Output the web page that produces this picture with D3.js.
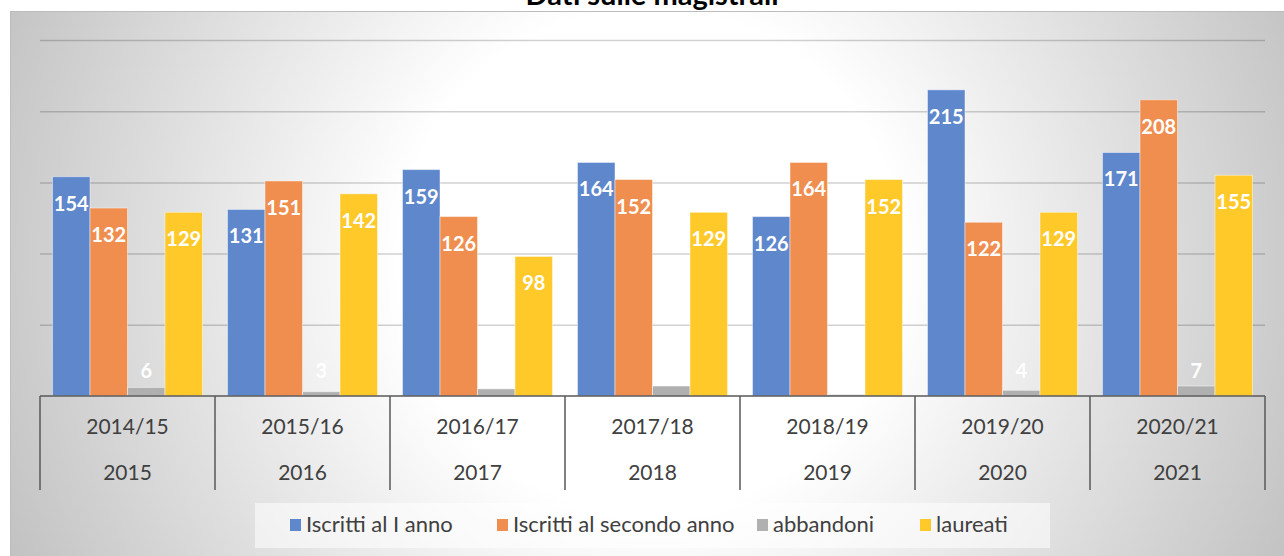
<!DOCTYPE html>
<html>
<head>
<meta charset="utf-8">
<script src="https://cdn.jsdelivr.net/npm/d3@7"></script>
<style>
  body { margin: 0; background: #fff; }
  svg { display: block; font-family: Lato, "Open Sans", sans-serif; }
</style>
</head>
<body>
<div id="chart"></div>
<script>
// data
const periods = ['2014/15', '2015/16', '2016/17', '2017/18', '2018/19', '2019/20', '2020/21'];
const years = ['2015', '2016', '2017', '2018', '2019', '2020', '2021'];
const seriesNames = ['Iscritti al I anno', 'Iscritti al secondo anno', 'abbandoni', 'laureati'];
const iscrittiPrimo = [154, 131, 159, 164, 126, 215, 171];
const iscrittiSecondo = [132, 151, 126, 152, 164, 122, 208];
const abbandoni = [6, 3, 5, 7, 1, 4, 7];
const laureati = [129, 142, 98, 129, 152, 129, 155];
const yTicks = [0, 50, 100, 150, 200, 250];

const colors = ['#5f87cc', '#ef8e4f', '#b0b0b0', '#ffc92a'];
const seriesValues = [iscrittiPrimo, iscrittiSecondo, abbandoni, laureati];

const W = 1284, H = 556;
const margin = { top: 40, right: 19, bottom: 160, left: 40 };
const width = W - margin.left - margin.right;
const height = H - margin.top - margin.bottom;

const svg = d3.select('#chart').append('svg')
    .attr('width', W)
    .attr('height', H);

const defs = svg.append('defs');
const grad = defs.append('radialGradient')
    .attr('id', 'bg')
    .attr('gradientUnits', 'userSpaceOnUse')
    .attr('cx', 650).attr('cy', 260).attr('r', 720);
grad.append('stop').attr('offset', '0%').attr('stop-color', '#ffffff');
grad.append('stop').attr('offset', '35%').attr('stop-color', '#ffffff');
grad.append('stop').attr('offset', '100%').attr('stop-color', '#c0c0c0');

// panel
svg.append('rect')
    .attr('x', 10.5).attr('y', 11.5)
    .attr('width', W).attr('height', H)
    .attr('fill', 'url(#bg)')
    .attr('stroke', '#bdbdbd');

// title (cut off at the top as in the original)
svg.append('text')
    .attr('x', 652).attr('y', 5)
    .attr('text-anchor', 'middle')
    .style('font-size', '29px')
    .style('font-weight', 'bold')
    .attr('fill', '#000')
    .text('Dati sulle magistrali');

const g = svg.append('g')
    .attr('transform', `translate(${margin.left},${margin.top})`);

const y = d3.scaleLinear().domain([0, 250]).range([height, 0]);

const x0 = d3.scaleBand().domain(periods).range([0, width]).padding(0);
const x1 = d3.scaleBand().domain(d3.range(seriesNames.length))
    .range([0, x0.bandwidth()])
    .paddingInner(0).paddingOuter(1 / 3);

// gridlines
g.append('g')
    .attr('class', 'grid')
    .call(d3.axisLeft(y).tickValues(yTicks.slice(1)).tickSize(-width).tickFormat(''))
    .call(s => s.select('.domain').remove())
    .call(s => s.selectAll('line').attr('stroke', '#000').attr('stroke-opacity', 0.18).attr('stroke-width', 1.5));

// bars
const rows = periods.map((p, i) => ({ period: p, values: seriesValues.map(s => s[i]) }));

const groups = g.selectAll('.grp')
    .data(rows)
    .enter()
    .append('g')
    .attr('class', 'grp')
    .attr('transform', d => `translate(${x0(d.period)},0)`);

groups.selectAll('rect')
    .data(d => d.values.map((v, k) => ({ k, v })))
    .enter()
    .append('rect')
    .attr('x', d => x1(d.k))
    .attr('y', d => y(d.v))
    .attr('width', x1.bandwidth())
    .attr('height', d => y(0) - y(d.v))
    .attr('fill', d => colors[d.k])
    .attr('stroke', '#fff')
    .attr('stroke-opacity', 0.45)
    .attr('stroke-width', 1);

groups.selectAll('text.lbl')
    .data(d => d.values.map((v, k) => ({ k, v })))
    .enter()
    .append('text')
    .attr('class', 'lbl')
    .attr('x', d => x1(d.k) + x1.bandwidth() / 2)
    .attr('y', d => Math.min(y(d.v) + 34, y(0) - 18))
    .attr('text-anchor', 'middle')
    .attr('fill', '#fff')
    .style('font-size', '20px')
    .style('font-weight', 'bold')
    .text(d => d.v);

// category axis
g.append('line')
    .attr('x1', 0).attr('x2', width)
    .attr('y1', y(0)).attr('y2', y(0))
    .attr('stroke', '#595959').attr('stroke-width', 1.5);

const bounds = periods.map(p => x0(p)).concat([width]);
g.selectAll('.vtick')
    .data(bounds)
    .enter()
    .append('line')
    .attr('class', 'vtick')
    .attr('x1', d => d).attr('x2', d => d)
    .attr('y1', y(0)).attr('y2', y(0) + 94)
    .attr('stroke', '#595959').attr('stroke-width', 1.5);

g.selectAll('.lab1')
    .data(periods)
    .enter()
    .append('text')
    .attr('x', d => x0(d) + x0.bandwidth() / 2)
    .attr('y', y(0) + 38)
    .attr('text-anchor', 'middle')
    .attr('fill', '#404040')
    .style('font-size', '21px')
    .text(d => d);

g.selectAll('.lab2')
    .data(years)
    .enter()
    .append('text')
    .attr('x', (d, i) => x0(periods[i]) + x0.bandwidth() / 2)
    .attr('y', y(0) + 84)
    .attr('text-anchor', 'middle')
    .attr('fill', '#404040')
    .style('font-size', '21px')
    .text(d => d);

// legend
svg.append('rect')
    .attr('x', 255).attr('y', 503)
    .attr('width', 795).attr('height', 45)
    .attr('fill', '#fff').attr('fill-opacity', 0.55);

const legendX = [290, 497, 757, 920];
const legend = svg.append('g');
const items = legend.selectAll('g')
    .data(seriesNames)
    .enter()
    .append('g')
    .attr('transform', (d, i) => `translate(${legendX[i]},519)`);

items.append('rect')
    .attr('width', 11).attr('height', 12)
    .attr('fill', (d, i) => colors[i]);

items.append('text')
    .attr('x', 16).attr('y', 13)
    .attr('fill', '#404040')
    .style('font-size', '22px')
    .text(d => d);
</script>
</body>
</html>
